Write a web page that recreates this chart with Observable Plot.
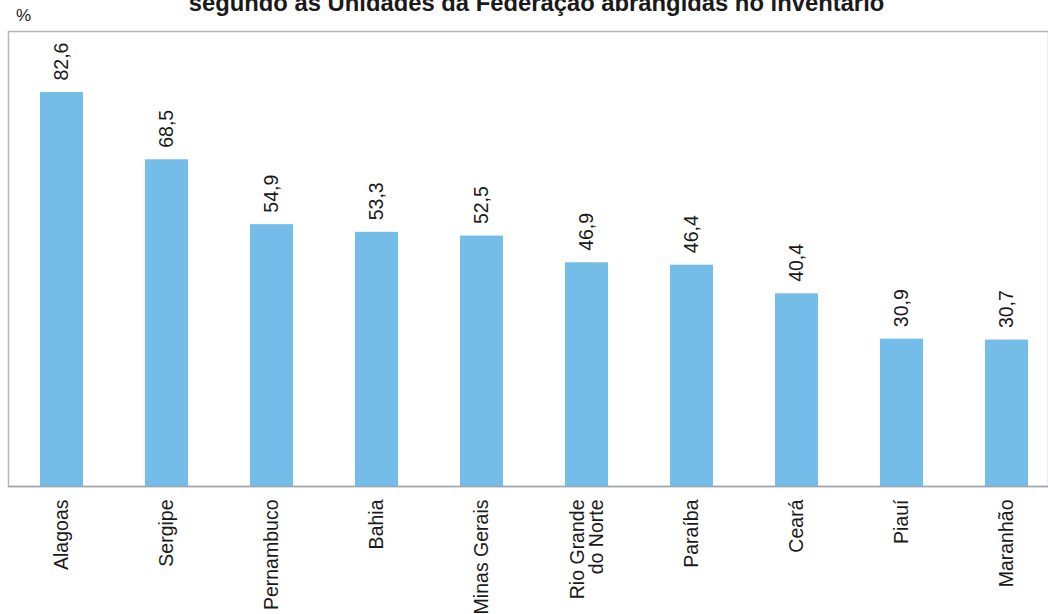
<!DOCTYPE html>
<html>
<head>
<meta charset="utf-8">
<script src="https://cdn.jsdelivr.net/npm/d3@7"></script>
<script src="https://cdn.jsdelivr.net/npm/@observablehq/plot@0.6"></script>
<style>
  html, body { margin: 0; padding: 0; background: #fff; overflow: hidden; }
  #wrap { position: relative; width: 1048px; height: 614px; overflow: hidden; font-family: "Liberation Sans", Arial, sans-serif; }
  #title { position: absolute; left: 0; width: 1073px; top: -9px; text-align: center; font-weight: bold; font-size: 23.8px; line-height: 24px; color: #1a1a1a; white-space: nowrap; }
  #unit { position: absolute; left: 16px; top: 6px; font-size: 17px; line-height: 20px; color: #1a1a1a; }
  #chart { position: absolute; left: 0; top: 0; }
</style>
</head>
<body>
<div id="wrap">
  <div id="chart"></div>
  <div id="title">segundo as Unidades da Federação abrangidas no inventário</div>
  <div id="unit">%</div>
</div>
<script>
const states = ["Alagoas", "Sergipe", "Pernambuco", "Bahia", "Minas Gerais", "Rio Grande\ndo Norte", "Paraíba", "Ceará", "Piauí", "Maranhão"];
const values = [82.6, 68.5, 54.9, 53.3, 52.5, 46.9, 46.4, 40.4, 30.9, 30.7];
const valueLabels = ["82,6", "68,5", "54,9", "53,3", "52,5", "46,9", "46,4", "40,4", "30,9", "30,7"];

const data = states.map((s, i) => ({state: s, value: values[i], label: valueLabels[i]}));

const chart = Plot.plot({
  width: 1048,
  height: 614,
  marginTop: 31,
  marginBottom: 128,
  marginLeft: 8,
  marginRight: 0,
  style: {fontFamily: "'Liberation Sans', Arial, sans-serif", background: "transparent"},
  x: {domain: states, range: [7, 1061], paddingInner: 0.59, paddingOuter: 0.295, axis: null},
  y: {domain: [0, 95.4], range: [486, 31], axis: null},
  marks: [
    Plot.frame({stroke: "#b3b8bd", strokeWidth: 1.5}),
    Plot.barY(data, {x: "state", y: "value", fill: "#74bde8"}),
    Plot.ruleY([0], {stroke: "#9ea7b0", strokeWidth: 1.5}),
    Plot.text(data, {x: "state", y: "value", text: "label", rotate: -90, textAnchor: "start", lineAnchor: "middle", dy: -12, fontSize: 19.5, fill: "#1a1a1a"}),
    Plot.text(data, {x: "state", y: 0, text: "state", rotate: -90, textAnchor: "end", lineAnchor: "middle", dy: 13, fontSize: 19.5, fill: "#1a1a1a", lineHeight: 1.0})
  ]
});
document.getElementById("chart").appendChild(chart);
</script>
</body>
</html>
